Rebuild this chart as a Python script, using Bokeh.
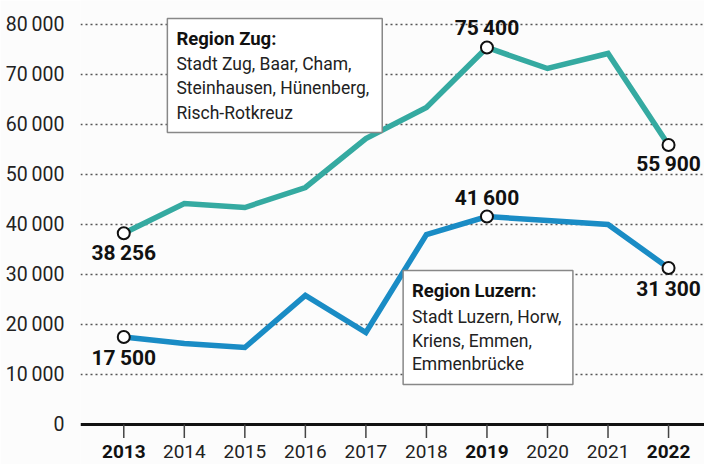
from bokeh.plotting import figure
from bokeh.models import Range1d, FixedTicker
from bokeh.core.properties import value
from bokeh.embed import file_html
from bokeh.resources import INLINE

years = [2013, 2014, 2015, 2016, 2017, 2018, 2019, 2020, 2021, 2022]
zug = [38256, 44200, 43400, 47400, 57200, 63400, 75400, 71200, 74200, 55900]
luzern = [17500, 16200, 15400, 25800, 18400, 38000, 41600, 40800, 40000, 31300]
highlight_years = [2013, 2019, 2022]
y_ticks = [0, 10000, 20000, 30000, 40000, 50000, 60000, 70000, 80000]
zug_title = "Region Zug:"
zug_lines = ["Stadt Zug, Baar, Cham,", "Steinhausen, Hünenberg,", "Risch-Rotkreuz"]
luz_title = "Region Luzern:"
luz_lines = ["Stadt Luzern, Horw,", "Kriens, Emmen,", "Emmenbrücke"]

ZUG_C = "#35aaa1"
LUZ_C = "#1a8cc5"
FONT = value("Roboto")
BG = "#fcfcfc"


def fmt(v):
    return f"{v:,}".replace(",", "\u2009")


p = figure(width=704, height=464, output_backend="svg", toolbar_location=None,
           x_range=Range1d(2012.285, 2022.594), y_range=Range1d(-8000, 84800),
           x_axis_location=None, min_border_left=80, min_border_right=0,
           min_border_top=0, min_border_bottom=0)
p.background_fill_color = BG
p.border_fill_color = BG
p.outline_line_color = None

# y axis
ya = p.yaxis[0]
ya.ticker = FixedTicker(ticks=y_ticks)
ya.major_label_overrides = {t: fmt(t) for t in y_ticks}
ya.axis_line_color = None
ya.major_tick_line_color = None
ya.minor_tick_line_color = None
ya.major_label_text_font = "Roboto"
ya.major_label_text_font_size = "19.5px"
ya.major_label_text_color = "#222222"
ya.major_label_standoff = 10

p.xgrid.visible = False
p.ygrid.ticker = FixedTicker(ticks=y_ticks[1:])
p.ygrid.grid_line_color = "#555555"
p.ygrid.grid_line_dash = "2 3"
p.ygrid.grid_line_width = 1.4

# x axis drawn as glyphs
x0, x1 = 2012.285, 2022.594
p.segment(x0=[x0], y0=[0], x1=[x1], y1=[0], line_color="#111111", line_width=3)
p.segment(x0=years, y0=[0] * len(years), x1=years, y1=[-2700] * len(years),
          line_color="#444444", line_width=1.5)
reg_years = [y for y in years if y not in highlight_years]
p.text(x=reg_years, y=[-5300] * len(reg_years), text=[str(y) for y in reg_years],
       text_font=FONT, text_font_size="19px", text_align="center",
       text_baseline="middle", text_color="#222222")
p.text(x=highlight_years, y=[-5300] * len(highlight_years),
       text=[str(y) for y in highlight_years], text_font=FONT, text_font_size="19px",
       text_font_style="bold", text_align="center", text_baseline="middle",
       text_color="#111111")

# lines
p.line(years, zug, line_color=ZUG_C, line_width=5.5, line_join="miter")
p.line(years, luzern, line_color=LUZ_C, line_width=5.5, line_join="miter")

# markers + labels
for series, offs in ((zug, [20, -20, 19]), (luzern, [21, -19, 21])):
    hx = highlight_years
    hy = [series[years.index(y)] for y in hx]
    p.scatter(hx, hy, size=12, fill_color="white", line_color="#111111", line_width=2)
    for x, yv, o in zip(hx, hy, offs):
        p.text(x=[x], y=[yv], text=[fmt(yv)], y_offset=o, text_font=FONT,
               text_font_size="21px", text_font_style="bold", text_align="center",
               text_baseline="middle", text_color="#111111")

# annotation boxes
p.quad(left=[2013.72], right=[2017.27], bottom=[58400], top=[81200],
       fill_color="white", line_color="#888888", line_width=1.5)
p.text(x=[2013.87], y=[77200], text=[zug_title], text_font=FONT, text_font_size="18.5px",
       text_font_style="bold", text_baseline="middle", text_color="#111111")
p.text(x=[2013.87] * 3, y=[72200, 67400, 62400], text=zug_lines, text_font=FONT,
       text_font_size="17.5px", text_baseline="middle", text_color="#222222")

p.quad(left=[2017.615], right=[2020.42], bottom=[8000], top=[30800],
       fill_color="white", line_color="#888888", line_width=1.5)
p.text(x=[2017.76], y=[26800], text=[luz_title], text_font=FONT, text_font_size="18.5px",
       text_font_style="bold", text_baseline="middle", text_color="#111111")
p.text(x=[2017.76] * 3, y=[21500, 16800, 12200], text=luz_lines, text_font=FONT,
       text_font_size="17.5px", text_baseline="middle", text_color="#222222")

open("out.html", "w").write(file_html(p, INLINE))
